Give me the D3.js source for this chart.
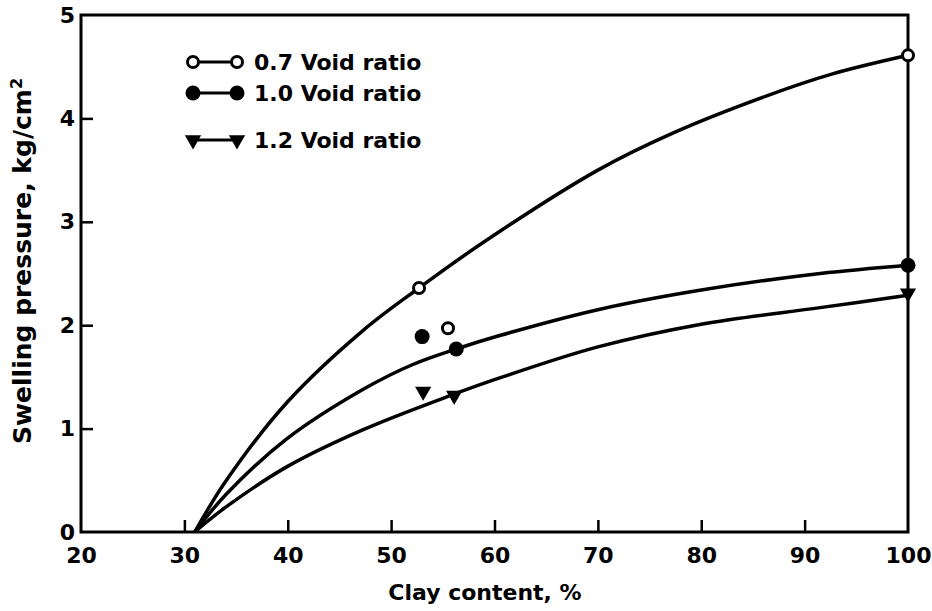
<!DOCTYPE html>
<html>
<head>
<meta charset="utf-8">
<script src="https://cdn.jsdelivr.net/npm/d3@7"></script>
<style>
  body { margin: 0; background: #fff; }
  svg text { font-family: "DejaVu Sans", sans-serif; font-weight: bold; fill: #000; }
</style>
</head>
<body>
<div id="wrapper"></div>
<script>
// tick values
const xTicks = [20, 30, 40, 50, 60, 70, 80, 90, 100];
const yTicks = [0, 1, 2, 3, 4, 5];

// curves (clay content %, swelling pressure kg/cm2)
const curve07 = [[31,0],[34,0.49],[39.9,1.25],[47.3,1.95],[52.7,2.36],[58.9,2.80],[70,3.50],[77.3,3.86],[86.4,4.22],[92.7,4.43],[100,4.61]];
const curve10 = [[31,0],[34,0.36],[39.9,0.90],[47.3,1.38],[52.1,1.62],[56.3,1.77],[60.5,1.90],[70,2.15],[80,2.34],[91.5,2.50],[100,2.58]];
const curve12 = [[31,0],[34,0.24],[39.9,0.63],[47.3,0.99],[56.0,1.33],[60.5,1.49],[70,1.79],[80,2.01],[91.5,2.17],[100,2.29]];

// measured points
const pts07 = [[52.7,2.36],[55.5,1.97],[100,4.61]];
const pts10 = [[53.0,1.89],[56.3,1.77],[100,2.58]];
const pts12 = [[53.1,1.36],[56.1,1.32],[100,2.31]];

const legendLabels = ["0.7 Void ratio", "1.0 Void ratio", "1.2 Void ratio"];

const dimension = {
    width: 932,
    height: 611,
    margin: { top: 15, left: 81, bottom: 79, right: 24 }
};
dimension.boundedWidth = dimension.width - dimension.margin.left - dimension.margin.right;
dimension.boundedHeight = dimension.height - dimension.margin.top - dimension.margin.bottom;

const svg = d3.select("#wrapper").append("svg")
    .attr("width", dimension.width)
    .attr("height", dimension.height);
svg.append("rect").attr("width", dimension.width).attr("height", dimension.height).attr("fill", "#fff");

const bounded = svg.append("g")
    .attr("transform", `translate(${dimension.margin.left},${dimension.margin.top})`);

const xScaler = d3.scaleLinear().domain([20, 100]).range([0, dimension.boundedWidth]);
const yScaler = d3.scaleLinear().domain([0, 5]).range([dimension.boundedHeight, 0]);

// frame
bounded.append("rect")
    .attr("width", dimension.boundedWidth)
    .attr("height", dimension.boundedHeight)
    .attr("fill", "none")
    .attr("stroke", "#000")
    .attr("stroke-width", 3);

const xAxis = d3.axisBottom(xScaler).tickValues(xTicks).tickFormat(d3.format("d"))
    .tickSizeInner(-12).tickSizeOuter(0).tickPadding(15);
const yAxis = d3.axisLeft(yScaler).tickValues(yTicks).tickFormat(d3.format("d"))
    .tickSizeInner(-12).tickSizeOuter(0).tickPadding(6);

const gx = bounded.append("g")
    .attr("transform", `translate(0,${dimension.boundedHeight})`)
    .call(xAxis);
const gy = bounded.append("g").call(yAxis);

[gx, gy].forEach(g => {
    g.select(".domain").remove();
    g.selectAll(".tick line").attr("stroke", "#000").attr("stroke-width", 2.5);
    g.selectAll(".tick text").style("font-size", "22px").attr("fill", "#000");
});
gx.selectAll(".tick").filter(d => d === 20 || d === 100).select("line").remove();
gy.selectAll(".tick").filter(d => d === 0 || d === 5).select("line").remove();

// curves
const lineGenerator = d3.line()
    .x(d => xScaler(d[0]))
    .y(d => yScaler(d[1]))
    .curve(d3.curveCatmullRom.alpha(0.5));

[curve07, curve10, curve12].forEach(c => {
    bounded.append("path")
        .attr("d", lineGenerator(c))
        .attr("fill", "none")
        .attr("stroke", "#000")
        .attr("stroke-width", 3.5);
});

// markers
const triangle = d3.symbol(d3.symbolTriangle, 115)();

function openCircle(g, x, y) {
    g.append("circle").attr("cx", x).attr("cy", y).attr("r", 5.5)
        .attr("fill", "#fff").attr("stroke", "#000").attr("stroke-width", 3);
}
function filledCircle(g, x, y) {
    g.append("circle").attr("cx", x).attr("cy", y).attr("r", 7.5).attr("fill", "#000");
}
function downTriangle(g, x, y) {
    g.append("path").attr("d", triangle)
        .attr("transform", `translate(${x},${y}) rotate(180)`)
        .attr("fill", "#000");
}

pts07.forEach(d => openCircle(bounded, xScaler(d[0]), yScaler(d[1])));
pts10.forEach(d => filledCircle(bounded, xScaler(d[0]), yScaler(d[1])));
pts12.forEach(d => downTriangle(bounded, xScaler(d[0]), yScaler(d[1])));

// legend
const legend = svg.append("g");
const legendRows = [
    { y: 62, marker: openCircle },
    { y: 93, marker: filledCircle },
    { y: 140, marker: downTriangle }
];
legendRows.forEach((row, i) => {
    legend.append("line")
        .attr("x1", 193).attr("x2", 237)
        .attr("y1", row.y).attr("y2", row.y)
        .attr("stroke", "#000").attr("stroke-width", 3);
    row.marker(legend, 193, row.y);
    row.marker(legend, 237, row.y);
    legend.append("text")
        .attr("x", 254).attr("y", row.y + 8)
        .style("font-size", "22px")
        .text(legendLabels[i]);
});

// axis titles
svg.append("text")
    .attr("x", 485).attr("y", 600)
    .attr("text-anchor", "middle")
    .style("font-size", "22px")
    .text("Clay content, %");

const yTitle = svg.append("text")
    .attr("transform", "translate(31,261) rotate(-90)")
    .attr("text-anchor", "middle")
    .style("font-size", "25px");
yTitle.append("tspan").text("Swelling pressure, kg/cm");
yTitle.append("tspan").attr("dy", -9).style("font-size", "16px").text("2");
</script>
</body>
</html>
